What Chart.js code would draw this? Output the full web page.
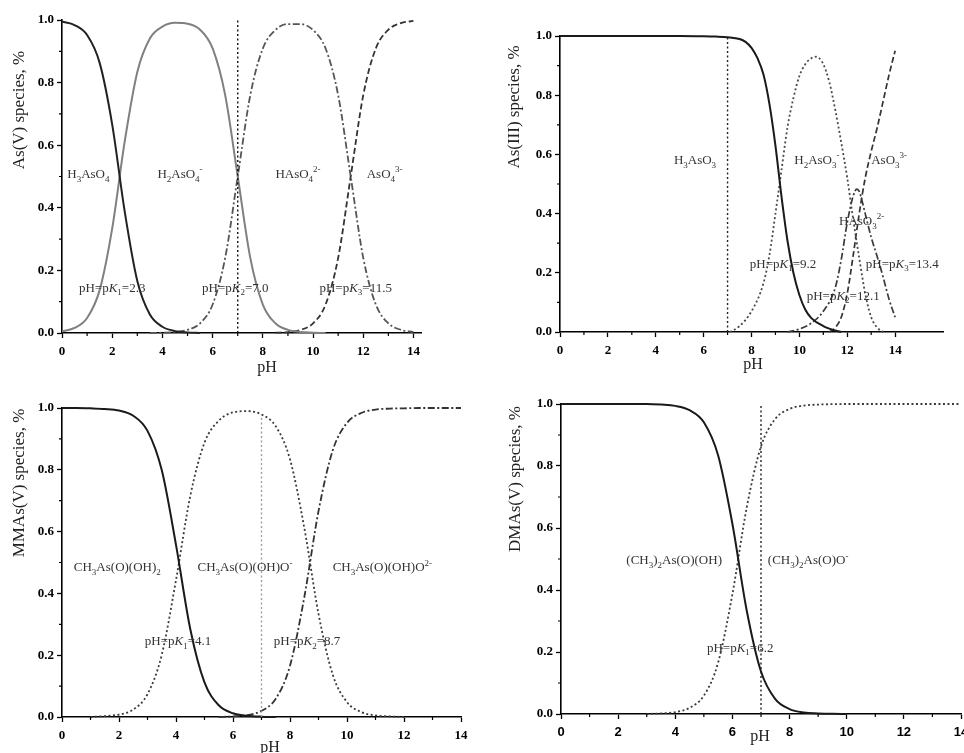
<!DOCTYPE html>
<html>
<head>
<meta charset="utf-8">
<script src="https://cdn.jsdelivr.net/npm/chart.js@4"></script>
<style>
  html, body { margin: 0; padding: 0; background: #fff; width: 964px; height: 753px; overflow: hidden; }
  .panel { position: absolute; }
</style>
</head>
<body>
<div class="panel" style="left:0;top:0"><canvas id="c1" width="440" height="380"></canvas></div>
<div class="panel" style="left:480px;top:0"><canvas id="c2" width="484" height="380"></canvas></div>
<div class="panel" style="left:0;top:380px"><canvas id="c3" width="480" height="400"></canvas></div>
<div class="panel" style="left:480px;top:380px"><canvas id="c4" width="520" height="400"></canvas></div>
<script>
"use strict";

const SERIF = '"Liberation Serif", "Times New Roman", serif';
const SANS = '"Liberation Sans", Arial, sans-serif';

// axis ticks
const xMajor = [0, 2, 4, 6, 8, 10, 12, 14];
const xMinor = [1, 3, 5, 7, 9, 11, 13];
const yMajor = [0, 0.2, 0.4, 0.6, 0.8, 1.0];
const yMinor = [0.1, 0.3, 0.5, 0.7, 0.9];

// --- As(V) ---
const h3aso4PH = [0, 0.5, 1, 1.5, 2, 2.5, 3, 3.5, 4, 4.5, 5, 5.5];
const h3aso4 = [0.995, 0.984, 0.952, 0.863, 0.666, 0.387, 0.166, 0.059, 0.020, 0.006, 0.002, 0];
const h2aso4PH = [0, 0.5, 1, 1.5, 2, 2.5, 3, 3.5, 4, 4.5, 5, 5.5, 6, 6.5, 7, 7.5, 8, 8.5, 9, 9.5, 10, 10.5];
const h2aso4 = [0.005, 0.016, 0.048, 0.137, 0.334, 0.613, 0.834, 0.941, 0.979, 0.991, 0.988, 0.969, 0.909, 0.760, 0.500, 0.240, 0.091, 0.031, 0.010, 0.003, 0.001, 0];
const haso4PH = [3.5, 4, 4.5, 5, 5.5, 6, 6.5, 7, 7.5, 8, 8.5, 9, 9.5, 10, 10.5, 11, 11.5, 12, 12.5, 13, 13.5, 14];
const haso4 = [0, 0.001, 0.003, 0.010, 0.031, 0.091, 0.240, 0.500, 0.760, 0.909, 0.968, 0.987, 0.987, 0.968, 0.909, 0.760, 0.500, 0.240, 0.091, 0.031, 0.010, 0.003];
const aso4PH = [8.5, 9, 9.5, 10, 10.5, 11, 11.5, 12, 12.5, 13, 13.5, 14];
const aso4 = [0.001, 0.003, 0.010, 0.031, 0.091, 0.240, 0.500, 0.760, 0.909, 0.969, 0.990, 0.997];

// --- As(III) ---
const h3aso3PH = [0, 1, 2, 3, 4, 5, 6, 6.5, 7, 7.5, 7.75, 8, 8.25, 8.5, 8.75, 9, 9.25, 9.5, 9.75, 10, 10.25, 10.5, 11, 11.5, 11.75];
const h3aso3 = [1, 1, 1, 1, 1, 1, 0.999, 0.998, 0.996, 0.99, 0.98, 0.96, 0.925, 0.87, 0.77, 0.63, 0.46, 0.31, 0.20, 0.125, 0.075, 0.047, 0.02, 0.005, 0];
const h2aso3PH = [7.1, 7.5, 8, 8.5, 8.75, 9, 9.25, 9.5, 9.75, 10, 10.25, 10.5, 10.7, 11, 11.25, 11.5, 11.75, 12, 12.25, 12.5, 12.75, 13, 13.25, 13.5];
const h2aso3 = [0, 0.02, 0.07, 0.165, 0.26, 0.40, 0.545, 0.69, 0.79, 0.865, 0.905, 0.925, 0.93, 0.905, 0.845, 0.75, 0.64, 0.52, 0.38, 0.25, 0.13, 0.05, 0.015, 0];
const haso3PH = [9.5, 10, 10.5, 11, 11.5, 11.75, 12, 12.25, 12.4, 12.5, 12.75, 13, 13.25, 13.5, 13.75, 14];
const haso3 = [0, 0.01, 0.03, 0.07, 0.15, 0.245, 0.37, 0.46, 0.483, 0.475, 0.40, 0.32, 0.255, 0.185, 0.11, 0.05];
const aso3PH = [11.25, 11.5, 11.75, 12, 12.25, 12.5, 12.75, 13, 13.25, 13.5, 13.75, 14];
const aso3 = [0, 0.015, 0.05, 0.13, 0.26, 0.40, 0.52, 0.61, 0.69, 0.78, 0.87, 0.95];

// --- MMAs(V) ---
const mmaAcidPH = [0, 0.5, 1, 1.5, 2, 2.5, 3, 3.5, 4, 4.5, 5, 5.5, 6, 6.5, 7, 7.5];
const mmaAcid = [1, 1, 0.999, 0.997, 0.992, 0.975, 0.926, 0.799, 0.557, 0.285, 0.112, 0.038, 0.012, 0.004, 0.001, 0];
const mmaMonoPH = [1, 1.5, 2, 2.5, 3, 3.5, 4, 4.5, 5, 5.5, 6, 6.5, 7, 7.5, 8, 8.5, 9, 9.5, 10, 10.5, 11, 11.5, 12];
const mmaMono = [0, 0.003, 0.008, 0.024, 0.074, 0.201, 0.443, 0.715, 0.888, 0.959, 0.986, 0.990, 0.979, 0.941, 0.834, 0.613, 0.334, 0.137, 0.048, 0.016, 0.005, 0.002, 0];
const mmaDiPH = [5.5, 6, 6.5, 7, 7.5, 8, 8.5, 9, 9.5, 10, 10.5, 11, 11.5, 12, 12.5, 13, 13.5, 14];
const mmaDi = [0, 0.002, 0.006, 0.020, 0.059, 0.166, 0.387, 0.666, 0.863, 0.952, 0.984, 0.995, 0.998, 0.999, 1, 1, 1, 1];

// --- DMAs(V) ---
const dmaAcidPH = [0, 1, 2, 3, 3.5, 4, 4.5, 5, 5.5, 6, 6.5, 7, 7.5, 8, 8.5, 9, 9.5, 10];
const dmaAcid = [1, 1, 1, 1, 0.998, 0.994, 0.980, 0.941, 0.834, 0.613, 0.334, 0.137, 0.048, 0.016, 0.005, 0.002, 0.0005, 0];
const dmaIonPH = [3, 3.5, 4, 4.5, 5, 5.5, 6, 6.5, 7, 7.5, 8, 8.5, 9, 9.5, 10, 11, 12, 13, 14];
const dmaIon = [0, 0.002, 0.006, 0.020, 0.059, 0.166, 0.387, 0.666, 0.863, 0.952, 0.984, 0.995, 0.998, 0.9995, 1, 1, 1, 1, 1];

const DOT = [2, 2.5];
const DASH = [6, 3];
const DASHDOT = [7, 2.5, 2, 2.5];

/** split "H_3AsO_4^{2-}" / "p*K*_1" into plain, sub, sup and italic runs */
function richRuns(str) {
  const runs = [];
  let it = false, i = 0;
  while (i < str.length) {
    const c = str[i];
    if (c === "*") { it = !it; i++; continue; }
    if (c === "_" || c === "^") {
      let txt;
      if (str[i + 1] === "{") { const j = str.indexOf("}", i); txt = str.slice(i + 2, j); i = j + 1; }
      else { txt = str[i + 1]; i += 2; }
      runs.push({ txt, mode: c === "_" ? "sub" : "sup", it: false });
      continue;
    }
    let j = i;
    while (j < str.length && !"*_^".includes(str[j])) j++;
    runs.push({ txt: str.slice(i, j), mode: "n", it });
    i = j;
  }
  return runs;
}

function drawRich(ctx, str, cx, cy, size, color) {
  const runs = richRuns(str);
  const small = Math.round(size * 0.68);
  const fontOf = (r) => (r.it ? "italic " : "") + (r.mode === "n" ? size : small) + "px " + SERIF;
  let w = 0;
  runs.forEach((r) => { ctx.font = fontOf(r); r.w = ctx.measureText(r.txt).width; w += r.w; });
  let x = cx - w / 2;
  const base = cy + size * 0.35;
  ctx.fillStyle = color;
  ctx.textAlign = "left";
  ctx.textBaseline = "alphabetic";
  runs.forEach((r) => {
    ctx.font = fontOf(r);
    const dy = r.mode === "sub" ? size * 0.3 : r.mode === "sup" ? -size * 0.42 : 0;
    ctx.fillText(r.txt, x, base + dy);
    x += r.w;
  });
}

function decor(p) {
  return {
    id: "decor",
    afterDraw(chart) {
      const { ctx, chartArea: a, scales: { x, y } } = chart;
      ctx.save();
      // minor ticks
      ctx.strokeStyle = "#000";
      ctx.lineWidth = 1.2;
      ctx.beginPath();
      xMinor.forEach((v) => { const px = x.getPixelForValue(v); ctx.moveTo(px, a.bottom); ctx.lineTo(px, a.bottom + 3); });
      yMinor.forEach((v) => { const py = y.getPixelForValue(v); ctx.moveTo(a.left - 3, py); ctx.lineTo(a.left, py); });
      ctx.stroke();
      // species labels
      p.notes.forEach((n) => drawRich(ctx, n.t, x.getPixelForValue(n.x), y.getPixelForValue(n.y), 13, "#333"));
      // axis titles
      ctx.fillStyle = "#222";
      ctx.textAlign = "center";
      ctx.textBaseline = "middle";
      ctx.font = "16px " + SERIF;
      ctx.fillText("pH", p.xTitle[0], p.xTitle[1]);
      ctx.translate(p.yTitle[0], p.yTitle[1]);
      ctx.rotate(-Math.PI / 2);
      ctx.font = "17px " + SERIF;
      ctx.fillText(p.yLabel, 0, 0);
      ctx.restore();
    },
  };
}

function makePanel(id, p) {
  const datasets = p.series.map((s) => ({
    data: s.x.map((v, i) => ({ x: v, y: s.y[i] })),
    borderColor: s.color,
    borderWidth: s.width || 1.6,
    borderDash: s.dash || [],
    pointRadius: 0,
    cubicInterpolationMode: s.straight ? "default" : "monotone",
    tension: 0,
    fill: false,
    clip: false,
  }));
  new Chart(document.getElementById(id), {
    type: "line",
    data: { datasets },
    options: {
      responsive: false,
      animation: false,
      events: [],
      layout: { padding: p.pad },
      plugins: { legend: { display: false }, tooltip: { enabled: false } },
      scales: {
        x: {
          type: "linear", min: 0, max: p.xMax,
          afterFit: (s) => { s.height = 30; },
          afterBuildTicks: (s) => { s.ticks = xMajor.map((v) => ({ value: v })); },
          ticks: { autoSkip: false, maxRotation: 0, padding: 6, color: "#000", font: p.xFont, callback: (v) => String(v) },
          grid: { drawOnChartArea: false, drawTicks: true, tickLength: 5, tickColor: "#000", tickWidth: 1.3 },
          border: { display: true, color: "#000", width: 1.6 },
        },
        y: {
          type: "linear", min: 0, max: 1,
          afterFit: (s) => { s.width = p.yWidth; },
          afterBuildTicks: (s) => { s.ticks = yMajor.map((v) => ({ value: v })); },
          ticks: { autoSkip: false, padding: 3, color: "#000", font: { family: SERIF, size: 13, weight: "bold" }, callback: (v) => Number(v).toFixed(1) },
          grid: { drawOnChartArea: false, drawTicks: true, tickLength: 5, tickColor: "#000", tickWidth: 1.3 },
          border: { display: true, color: "#000", width: 1.6 },
        },
      },
    },
    plugins: [decor(p)],
  });
}

const serifTicks = { family: SERIF, size: 13, weight: "bold" };

makePanel("c1", {
  xMax: 14.3, yWidth: 62, pad: { left: 0, right: 19, top: 20, bottom: 17 },
  xFont: serifTicks, yLabel: "As(V) species, %", yTitle: [20, 110], xTitle: [267, 368],
  series: [
    { x: [7, 7], y: [0, 1], color: "#111", width: 1.4, dash: DOT, straight: true },
    { x: h3aso4PH, y: h3aso4, color: "#222", width: 2 },
    { x: h2aso4PH, y: h2aso4, color: "#808080", width: 2 },
    { x: haso4PH, y: haso4, color: "#555", width: 1.8, dash: DASHDOT },
    { x: aso4PH, y: aso4, color: "#333", width: 1.8, dash: DASH },
  ],
  notes: [
    { t: "H_3AsO_4", x: 1.05, y: 0.51 },
    { t: "H_2AsO_4^-", x: 4.7, y: 0.51 },
    { t: "HAsO_4^{2-}", x: 9.4, y: 0.51 },
    { t: "AsO_4^{3-}", x: 12.85, y: 0.51 },
    { t: "pH=p*K*_1=2.3", x: 2.0, y: 0.147 },
    { t: "pH=p*K*_2=7.0", x: 6.9, y: 0.147 },
    { t: "pH=p*K*_3=11.5", x: 11.7, y: 0.147 },
  ],
});

makePanel("c2", {
  xMax: 16, yWidth: 80, pad: { left: 0, right: 21, top: 36, bottom: 18 },
  xFont: serifTicks, yLabel: "As(III) species, %", yTitle: [35, 107], xTitle: [273, 365],
  series: [
    { x: [7, 7], y: [0, 0.996], color: "#222", width: 1.4, dash: DOT, straight: true },
    { x: h3aso3PH, y: h3aso3, color: "#1a1a1a", width: 2 },
    { x: h2aso3PH, y: h2aso3, color: "#4a4a4a", width: 1.8, dash: DOT },
    { x: haso3PH, y: haso3, color: "#3a3a3a", width: 1.7, dash: DASHDOT },
    { x: aso3PH, y: aso3, color: "#333", width: 1.7, dash: DASH },
  ],
  notes: [
    { t: "H_3AsO_3", x: 5.64, y: 0.584 },
    { t: "H_2AsO_3^-", x: 10.73, y: 0.584 },
    { t: "AsO_3^{3-}", x: 13.75, y: 0.584 },
    { t: "HAsO_3^{2-}", x: 12.6, y: 0.378 },
    { t: "pH=p*K*_1=9.2", x: 9.32, y: 0.233 },
    { t: "pH=p*K*_2=12.1", x: 11.83, y: 0.125 },
    { t: "pH=p*K*_3=13.4", x: 14.3, y: 0.233 },
  ],
});

makePanel("c3", {
  xMax: 14, yWidth: 62, pad: { left: 0, right: 19, top: 28, bottom: 33 },
  xFont: serifTicks, yLabel: "MMAs(V) species, %", yTitle: [20, 103], xTitle: [270, 368],
  series: [
    { x: [7, 7], y: [0, 0.98], color: "#999", width: 1.3, dash: DOT, straight: true },
    { x: mmaAcidPH, y: mmaAcid, color: "#1a1a1a", width: 2 },
    { x: mmaMonoPH, y: mmaMono, color: "#3a3a3a", width: 1.8, dash: DOT },
    { x: mmaDiPH, y: mmaDi, color: "#333", width: 1.8, dash: DASHDOT },
  ],
  notes: [
    { t: "CH_3As(O)(OH)_2", x: 1.94, y: 0.486 },
    { t: "CH_3As(O)(OH)O^-", x: 6.42, y: 0.486 },
    { t: "CH_3As(O)(OH)O^{2-}", x: 11.24, y: 0.486 },
    { t: "pH=p*K*_1=4.1", x: 4.07, y: 0.249 },
    { t: "pH=p*K*_2=8.7", x: 8.6, y: 0.249 },
  ],
});

makePanel("c4", {
  xMax: 14, yWidth: 81, pad: { left: 0, right: 39, top: 24, bottom: 36 },
  xFont: { family: SANS, size: 13, weight: "bold" }, yLabel: "DMAs(V) species, %", yTitle: [36, 99], xTitle: [280, 357],
  series: [
    { x: [7, 7], y: [0, 1], color: "#222", width: 1.4, dash: DOT, straight: true },
    { x: dmaAcidPH, y: dmaAcid, color: "#1a1a1a", width: 2 },
    { x: dmaIonPH, y: dmaIon, color: "#3a3a3a", width: 1.8, dash: DOT },
  ],
  notes: [
    { t: "(CH_3)_2As(O)(OH)", x: 3.96, y: 0.497 },
    { t: "(CH_3)_2As(O)O^-", x: 8.65, y: 0.497 },
    { t: "pH=p*K*_1=6.2", x: 6.27, y: 0.216 },
  ],
});
</script>
</body>
</html>
